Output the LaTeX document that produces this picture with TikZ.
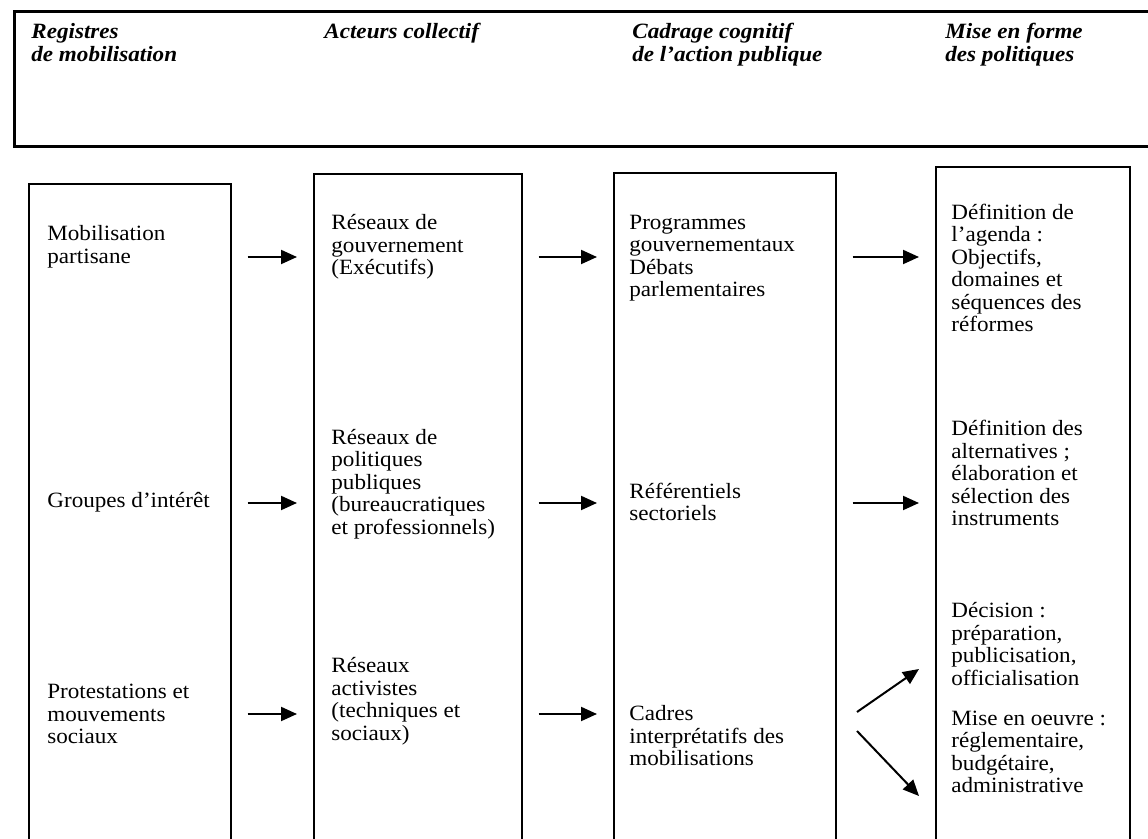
\documentclass[tikz,border=0pt]{standalone}
\usepackage{fontspec}
\setmainfont{Liberation Serif}[FakeStretch=1.06]
\usetikzlibrary{arrows.meta,positioning,calc}

\begin{document}
\begin{tikzpicture}[
  x=0.5pt,y=-0.5pt,
  font=\fontsize{10.9}{11.25}\selectfont,
  headbox/.style={draw,line width=1.5pt,anchor=north west,inner sep=0pt,
    minimum width=580pt,minimum height=67.5pt},
  colbox/.style={draw,line width=0.8pt,anchor=north west,inner sep=0pt,
    minimum height=360pt},
  headtxt/.style={font=\fontsize{10.9}{11.25}\selectfont\bfseries\itshape,
    align=left,anchor=north west,inner sep=0pt},
  txt/.style={align=left,anchor=west,inner sep=0pt},
  arrow/.style={-{Triangle[length=8pt,width=7pt]},line width=1pt},
  rowarrow/.style={arrow,shorten <=8pt,shorten >=8pt}
]
\useasboundingbox (0,0) rectangle (1148,839);
\clip (0,0) rectangle (1148,839);

% header band
\node[headbox] (head) at (13,10) {};
\node[headtxt] (hregs) at (31,23) {Registres\\de mobilisation};
\node[headtxt] (hacts) at (324,23) {Acteurs collectif};
\node[headtxt] (hcadr) at (632,23) {Cadrage cognitif\\de l'action publique};
\node[headtxt] (hmise) at (945,23) {Mise en forme\\des politiques};

% the four columns
\node[colbox,minimum width=101pt] (regs) at (28,183) {};
\node[colbox,minimum width=104pt] (acts) at (313,173) {};
\node[colbox,minimum width=111pt] (cadr) at (613,172) {};
\node[colbox,minimum width=97pt] (mise) at (935,166) {};

% column 1
\node[txt] (partis) at (47,247) {Mobilisation\\partisane};
\node[txt] (groupes) at (47,502) {Groupes d'intérêt};
\node[txt] (protest) at (47,714) {Protestations et\\mouvements\\sociaux};
% column 2
\node[txt] (gouv) at (331,247) {Réseaux de\\gouvernement\\(Exécutifs)};
\node[txt] (polpub) at (331,484) {Réseaux de\\politiques\\publiques\\(bureaucratiques\\et professionnels)};
\node[txt] (activ) at (331,701) {Réseaux\\activistes\\(techniques et\\sociaux)};
% column 3
\node[txt] (progr) at (629,258) {Programmes\\gouvernementaux\\Débats\\parlementaires};
\node[txt] (refer) at (629,502) {Référentiels\\sectoriels};
\node[txt] (interp) at (629,736) {Cadres\\interprétatifs des\\mobilisations};
% column 4
\node[txt] (agenda) at (951,268) {Définition de\\l'agenda :\\Objectifs,\\domaines et\\séquences des\\réformes};
\node[txt] (altern) at (951,473) {Définition des\\alternatives ;\\élaboration et\\sélection des\\instruments};
\node[txt] (decis) at (951,644) {Décision :\\préparation,\\publicisation,\\officialisation};
\node[txt] (oeuvre) at (951,752) {Mise en oeuvre :\\réglementaire,\\budgétaire,\\administrative};

% row heights of the arrows
\coordinate (rowA) at (0,257);
\coordinate (rowB) at (0,503);
\coordinate (rowC) at (0,714);

\draw[rowarrow] (regs.east |- rowA) -- (acts.west |- rowA);
\draw[rowarrow] (acts.east |- rowA) -- (cadr.west |- rowA);
\draw[rowarrow] (cadr.east |- rowA) -- (mise.west |- rowA);
\draw[rowarrow] (regs.east |- rowB) -- (acts.west |- rowB);
\draw[rowarrow] (acts.east |- rowB) -- (cadr.west |- rowB);
\draw[rowarrow] (cadr.east |- rowB) -- (mise.west |- rowB);
\draw[rowarrow] (regs.east |- rowC) -- (acts.west |- rowC);
\draw[rowarrow] (acts.east |- rowC) -- (cadr.west |- rowC);

% fork towards decision / implementation
\coordinate (forkup) at (857,712);
\coordinate (forkdn) at (857,731);
\coordinate (decin) at (919,669);
\coordinate (oeuvin) at (919,796);
\draw[arrow] (forkup) -- (decin);
\draw[arrow] (forkdn) -- (oeuvin);
\end{tikzpicture}
\end{document}
